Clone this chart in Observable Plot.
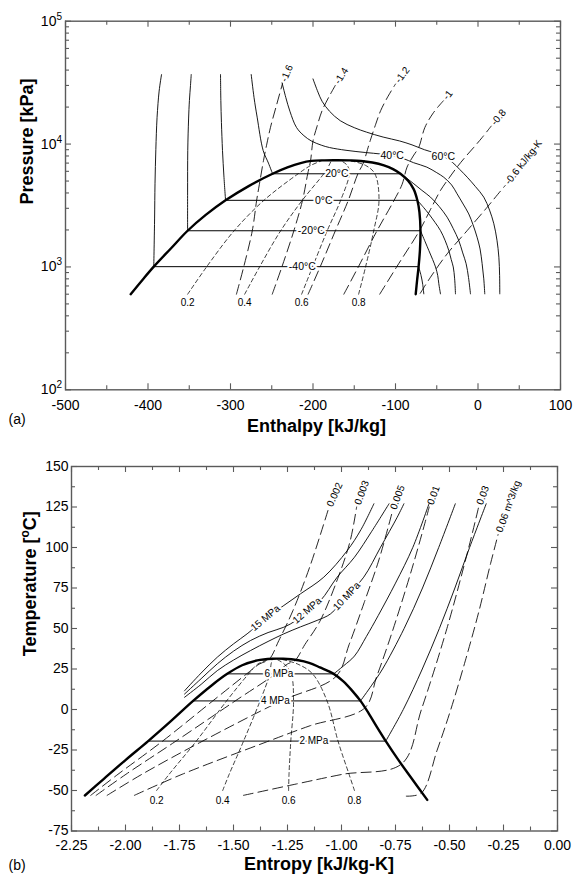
<!DOCTYPE html>
<html>
<head>
<meta charset="utf-8">
<script src="https://cdn.jsdelivr.net/npm/d3@7"></script>
<script src="https://cdn.jsdelivr.net/npm/@observablehq/plot@0.6"></script>
<style>
  body { margin: 0; background: #fff; }
  #chart { position: relative; width: 574px; height: 880px; overflow: hidden; }
  #chart svg { position: absolute; left: 0; }
</style>
</head>
<body>
<div id="chart"></div>
<script>
// ================= Panel (a): CO2 pressure–enthalpy diagram =================
// axis ticks
const hTicks = [-500, -400, -300, -200, -100, 0, 100];
const hMinorTicks = [-450, -350, -250, -150, -50, 50];
const pTicks = [100, 1000, 10000, 100000];
const pMinorTicks = [200, 300, 400, 500, 600, 700, 800, 900,
  2000, 3000, 4000, 5000, 6000, 7000, 8000, 9000,
  20000, 30000, 40000, 50000, 60000, 70000, 80000, 90000];

// saturation dome [h kJ/kg, P kPa]
const satDomePH = [[-421, 600], [-407, 780], [-393, 1005], [-372, 1420], [-352, 1970], [-330, 2650],
  [-306, 3485], [-278, 4550], [-249, 5730], [-231, 6450], [-215, 7000], [-202, 7290], [-186, 7370],
  [-170, 7380], [-155, 7360], [-142, 7290], [-128, 7080], [-114, 6700], [-103, 6250], [-94, 5730],
  [-85, 5050], [-78, 4300], [-73.5, 3485], [-71, 2800], [-69.7, 1970], [-70.3, 1400], [-72, 1005],
  [-73.8, 780], [-75.5, 600]];

// two-phase isotherms (constant pressure inside the dome)
const satTempLabels = ["-40°C", "-20°C", "0°C", "20°C"];
const satPressure = [1005, 1970, 3485, 5730];
const satLiquidH = [-393, -352, -306, -249];
const satVaporH = [-72, -69.7, -73.5, -94];
const satLabelH = [-213, -202, -187, -171];

// compressed-liquid isotherms
const isoLiqM40 = [[-393, 1005], [-392, 2500], [-391.5, 4750], [-390.5, 9000], [-389, 16500], [-386.5, 27000], [-383.6, 36800]];
const isoLiqM20 = [[-352, 1970], [-352, 4000], [-351.8, 8870], [-350.8, 16000], [-349.8, 22600], [-348.5, 30000], [-347.6, 36800]];
const isoLiq0 = [[-306, 3485], [-308, 5500], [-309.7, 8870], [-311, 15000], [-311.7, 22600], [-312.1, 36800]];
const isoLiq20 = [[-249, 5730], [-254, 7000], [-260.4, 8860], [-267.7, 16560], [-271.5, 24000], [-274.9, 36800]];
// superheated-vapour isotherms
const isoVapM40 = [[-72, 1005], [-69, 850], [-67, 720], [-65.7, 604]];
const isoVapM20 = [[-69.7, 1970], [-64, 1600], [-59.6, 1360], [-55, 1150], [-51.5, 1000], [-48.8, 850], [-47.5, 730], [-45.5, 604]];
const isoVap0 = [[-73.5, 3485], [-66, 3050], [-59.6, 2700], [-52, 2300], [-45.5, 1977], [-40, 1650], [-35.4, 1360], [-32.5, 1150], [-30, 1000], [-28.3, 800], [-27.3, 604]];
const isoVap20 = [[-94, 5730], [-86, 5250], [-77.8, 4750], [-68, 4200], [-57.6, 3700], [-47, 3100], [-37.4, 2540], [-30, 2050], [-23.3, 1640], [-18.5, 1300], [-14.4, 1063], [-11.5, 820], [-9.1, 604]];
// supercritical isotherms
const iso40 = [[-237.5, 31500], [-233, 24000], [-228, 18500], [-220, 13650], [-211, 11700], [-202, 10600], [-190, 9800],
  [-180, 9370], [-160, 8900], [-136, 8530], [-118, 8300], [-104, 8020], [-90, 7600], [-78, 7050], [-62, 6490],
  [-50, 5850], [-41.5, 5370], [-32, 4650], [-25.4, 3940], [-18, 3250], [-11.2, 2700], [-6, 2200], [-1.1, 1746],
  [2.5, 1400], [5, 1063], [7, 800], [8.2, 604]];
const iso60 = [[-200, 33900], [-194, 26500], [-189, 22300], [-180, 18500], [-167, 15500], [-150, 13600], [-135, 12500],
  [-115, 11400], [-95, 10600], [-80, 9850], [-65, 9000], [-52, 8450], [-42, 7950], [-31, 7100], [-22, 6200],
  [-13, 5370], [-3, 4500], [7, 3700], [14, 2900], [19.2, 2245], [23, 1650], [25.3, 1200], [26.2, 850], [26.4, 604]];
const superLabels = ["40°C", "60°C"];
const superLabelH = [-104, -42];
const superLabelP = [8020, 7950];

// isentropes [kJ/kg-K]
const isentropeNames = ["-1.6", "-1.4", "-1.2", "-1", "-0.8", "-0.6 kJ/kg-K"];
const isenM16 = [[-292.8, 600], [-283.9, 1005], [-273.6, 1970], [-268.3, 3485], [-265, 4700], [-260, 7345], [-256, 10000], [-251.5, 13700], [-244, 21000], [-237, 31000]];
const isenM14 = [[-249.4, 600], [-237.6, 1005], [-223.2, 1970], [-212.7, 3485], [-206.4, 5730], [-203, 7300], [-200, 10600], [-195, 14000], [-189, 18700], [-181, 24000], [-173, 30000]];
const isenM12 = [[-205.9, 600], [-191.2, 1005], [-172.9, 1970], [-157.2, 3485], [-145.6, 5730], [-139, 7000], [-134, 9000], [-130, 11000], [-124, 14500], [-118, 18700], [-109, 24500], [-100, 30800]];
const isenM10 = [[-162.6, 600], [-144.9, 1005], [-122.4, 1970], [-101.7, 3485], [-92, 4700], [-86, 6490], [-78.5, 8000], [-71.8, 9420], [-64.4, 13650], [-54, 18000], [-42, 22500]];
const isenM08 = [[-119.1, 600], [-98.4, 1005], [-71, 1970], [-58, 2900], [-45.5, 4190], [-35, 5300], [-25.4, 6490], [-15, 7900], [-5, 9420], [5, 11300], [16, 14000]];
const isenM06 = [[-70, 610], [-57.6, 824], [-37.4, 1277], [-13.1, 1977], [11.1, 3060], [24, 3900], [33, 4600]];

// vapour-quality lines
const qualityNames = ["0.2", "0.4", "0.6", "0.8"];
const q02PH = [[-351.9, 600], [-328.8, 1005], [-295.6, 1970], [-259.5, 3485], [-218, 5730], [-202.8, 6700], [-190, 7290]];
const q04PH = [[-282.8, 600], [-264.6, 1005], [-239.2, 1970], [-213, 3485], [-187, 5730], [-180.6, 6700], [-178, 7300]];
const q06PH = [[-213.8, 600], [-200.4, 1005], [-182.8, 1970], [-166.5, 3485], [-156, 5730], [-158.4, 6700], [-166, 7320]];
const q08PH = [[-144.7, 600], [-136.2, 1005], [-126.4, 1970], [-120, 3485], [-125, 5730], [-136.2, 6700], [-154, 7300]];

// ================= Panel (b): CO2 temperature–entropy diagram =================
const sTicks = [-2.25, -2.0, -1.75, -1.5, -1.25, -1.0, -0.75, -0.5, -0.25, 0];
const sMinorTicks = [-2.125, -1.875, -1.625, -1.375, -1.125, -0.875, -0.625, -0.375, -0.125];
const tTicks = [-75, -50, -25, 0, 25, 50, 75, 100, 125, 150];
const tMinorTicks = [-62.5, -37.5, -12.5, 12.5, 37.5, 62.5, 87.5, 112.5, 137.5];

// saturation dome [s kJ/kg-K, T °C]
const satDomeTS = [[-2.188, -53.1], [-2.10, -42.8], [-2.0, -31.2], [-1.895, -19.5], [-1.79, -7.2], [-1.687, 5.3],
  [-1.60, 15], [-1.529, 22], [-1.46, 27.3], [-1.39, 30.3], [-1.32, 31.3], [-1.27, 31.3], [-1.2, 30.4],
  [-1.15, 28.8], [-1.10, 26.0], [-1.036, 22], [-0.99, 17.2], [-0.95, 11.5], [-0.912, 5.3], [-0.87, -3.3],
  [-0.835, -11], [-0.795, -19.5], [-0.74, -30.5], [-0.68, -41.7], [-0.603, -55.8]];

// two-phase isobars
const satIsobarLabels = ["6 MPa", "4 MPa", "2 MPa"];
const satIsobarT = [22, 5.3, -19.5];
const satIsobarSf = [-1.529, -1.687, -1.895];
const satIsobarSg = [-1.036, -0.912, -0.795];
const satIsobarLabelS = [-1.29, -1.306, -1.128];

// single-phase isobars
const p2TS = [[-0.795, -19.5], [-0.714, 0], [-0.626, 25], [-0.547, 50], [-0.475, 75], [-0.407, 100], [-0.33, 127]];
const p4TS = [[-0.912, 5.3], [-0.86, 15], [-0.81, 25], [-0.71, 50], [-0.625, 75], [-0.55, 100], [-0.473, 127]];
const p6TS = [[-1.036, 22], [-0.99, 27], [-0.94, 33], [-0.885, 45], [-0.83, 58], [-0.75, 78], [-0.67, 100], [-0.595, 127]];
const p10TS = [[-1.727, 7.5], [-1.65, 15.5], [-1.575, 24], [-1.5, 30.5], [-1.421, 36.4], [-1.34, 42], [-1.267, 46.7],
  [-1.19, 51], [-1.113, 55], [-1.051, 59], [-0.976, 70], [-0.897, 81.7], [-0.819, 100.2], [-0.742, 118.7], [-0.711, 127]];
const p12TS = [[-1.727, 9.5], [-1.65, 19], [-1.575, 28.2], [-1.5, 36], [-1.421, 42.6], [-1.34, 47.5], [-1.267, 50.8],
  [-1.21, 55], [-1.159, 61.1], [-1.097, 67.3], [-1.02, 81.7], [-0.94, 94], [-0.86, 110], [-0.78, 127]];
const p15TS = [[-1.727, 11.5], [-1.65, 22.5], [-1.575, 32.3], [-1.5, 40.5], [-1.437, 46.7], [-1.352, 56],
  [-1.267, 64.2], [-1.19, 71.4], [-1.082, 81.7], [-0.974, 98], [-0.91, 111], [-0.85, 127]];
const superIsobarLabels = ["15 MPa", "12 MPa", "10 MPa"];
const superIsobarLabelS = [-1.352, -1.159, -0.976];
const superIsobarLabelT = [56.5, 61.1, 70];

// isochores [m^3/kg]
const isochoreNames = ["0.002", "0.003", "0.005", "0.01", "0.03", "0.06 m^3/kg"];
const v0002TS = [[-2.161, -53], [-2.035, -40], [-1.833, -20], [-1.596, 5.3], [-1.439, 22], [-1.381, 28], [-1.335, 31], [-1.29, 42.6], [-1.225, 61], [-1.147, 88], [-1.06, 124]];
const v0003TS = [[-2.136, -53], [-1.998, -40], [-1.772, -20], [-1.492, 5.3], [-1.305, 22], [-1.251, 28], [-1.215, 30.3], [-1.17, 40], [-1.1, 54.5], [-1.017, 81], [-0.96, 104], [-0.93, 125]];
const v0005TS = [[-2.085, -53], [-1.924, -40], [-1.65, -20], [-1.279, 5.3], [-1.025, 20.5], [-0.965, 40], [-0.895, 66], [-0.83, 91], [-0.785, 112], [-0.765, 122]];
const v001TS = [[-1.959, -53], [-1.738, -40], [-1.347, -20], [-1.145, -10], [-0.892, 1], [-0.838, 20], [-0.785, 40], [-0.724, 65], [-0.667, 90], [-0.614, 115], [-0.594, 125]];
const v003TS = [[-1.454, -53], [-1.21, -46], [-0.995, -40], [-0.721, -33.5], [-0.63, 0], [-0.512, 50], [-0.411, 100], [-0.365, 125]];
const v006TS = [[-0.70, -53.5], [-0.63, -51.5], [-0.557, -25], [-0.494, 0], [-0.427, 30], [-0.365, 60], [-0.31, 90], [-0.275, 108]];

// vapour-quality lines
const q02TS = [[-1.856, -50], [-1.798, -40], [-1.675, -20], [-1.532, 5.3], [-1.43, 22], [-1.388, 28], [-1.335, 31]];
const q04TS = [[-1.55, -50], [-1.52, -40], [-1.455, -20], [-1.377, 5.3], [-1.332, 22], [-1.326, 28], [-1.32, 31]];
const q06TS = [[-1.245, -50], [-1.243, -40], [-1.235, -20], [-1.222, 5.3], [-1.233, 22], [-1.264, 28], [-1.30, 31]];
const q08TS = [[-0.94, -50], [-0.965, -40], [-1.015, -20], [-1.067, 5.3], [-1.134, 22], [-1.202, 28], [-1.28, 31]];

// ---------------------------------------------------------------------------
const FONT = "'Liberation Sans', Arial, Helvetica, sans-serif";
const AXIS = "#5a5a5a";
const SVGNS = "http://www.w3.org/2000/svg";

const rows = (list) => list.flatMap(([id, pts]) => pts.map(([x, y]) => ({id, x, y})));
const last = (pts) => pts[pts.length - 1];

// inward ticks on all four sides of the frame
function frameTicks(xMajor, xMinor, yMajor, yMinor, innerW, innerH) {
  const M = 6, m = 4;
  const o = {stroke: AXIS, strokeWidth: 1.1};
  return [
    Plot.tickX(xMajor, {x: d => d, insetTop: innerH - M, ...o}),
    Plot.tickX(xMajor, {x: d => d, insetBottom: innerH - M, ...o}),
    Plot.tickX(xMinor, {x: d => d, insetTop: innerH - m, ...o}),
    Plot.tickX(xMinor, {x: d => d, insetBottom: innerH - m, ...o}),
    Plot.tickY(yMajor, {y: d => d, insetRight: innerW - M, ...o}),
    Plot.tickY(yMajor, {y: d => d, insetLeft: innerW - M, ...o}),
    Plot.tickY(yMinor, {y: d => d, insetRight: innerW - m, ...o}),
    Plot.tickY(yMinor, {y: d => d, insetLeft: innerW - m, ...o}),
    Plot.frame({stroke: AXIS, strokeWidth: 1.4})
  ];
}

const lineOpts = {x: "x", y: "y", z: "id", stroke: "#000", curve: "catmull-rom"};
const labelOpts = {fill: "#000", stroke: "#fff", strokeWidth: 4, fontFamily: FONT};

// ------------------------------ panel (a) -------------------------------
const isentropesPH = [isenM16, isenM14, isenM12, isenM10, isenM08, isenM06];
const isentropeAngles = [-67, -58, -53, -52, -50, -52];
const qualityPH = [q02PH, q04PH, q06PH, q08PH];

const plotA = Plot.plot({
  width: 574, height: 450,
  marginLeft: 65, marginRight: 14, marginTop: 20.7, marginBottom: 60.7,
  style: {fontFamily: FONT, fontSize: "14px", background: "transparent", overflow: "visible", color: "#000"},
  x: {domain: [-500, 100], ticks: hTicks, tickFormat: d => String(d), tickSize: 0, tickPadding: 10, label: null},
  y: {type: "log", domain: [100, 100000], ticks: pTicks, tickFormat: d => "10^" + Math.round(Math.log10(d)), tickSize: 0, tickPadding: 3.5, label: null},
  marks: [
    Plot.line(rows(qualityPH.map((c, i) => [qualityNames[i], c])), {...lineOpts, strokeWidth: 0.75, strokeDasharray: "4,3"}),
    Plot.line(rows(isentropesPH.map((c, i) => [isentropeNames[i], c])), {...lineOpts, strokeWidth: 0.85, strokeDasharray: "10,5"}),
    Plot.line(rows([["l-40", isoLiqM40], ["l-20", isoLiqM20], ["l0", isoLiq0], ["l20", isoLiq20],
      ["v-40", isoVapM40], ["v-20", isoVapM20], ["v0", isoVap0], ["v20", isoVap20], ["c40", iso40], ["c60", iso60]]),
      {...lineOpts, strokeWidth: 0.9}),
    Plot.ruleY(satPressure.map((_, i) => i), {y: i => satPressure[i], x1: i => satLiquidH[i], x2: i => satVaporH[i], stroke: "#000", strokeWidth: 1}),
    Plot.line(satDomePH, {x: d => d[0], y: d => d[1], stroke: "#000", strokeWidth: 2.4, curve: "catmull-rom"}),
    // isotherm labels
    Plot.text(satTempLabels.map((_, i) => i), {x: i => satLabelH[i], y: i => satPressure[i], text: i => satTempLabels[i], fontSize: 10.5, ...labelOpts}),
    Plot.text(superLabels.map((_, i) => i), {x: i => superLabelH[i], y: i => superLabelP[i], text: i => superLabels[i], fontSize: 10.5, ...labelOpts}),
    // isentrope labels at the upper end of each line
    Plot.text(isentropesPH.map((_, i) => i), {x: i => last(isentropesPH[i])[0], y: i => last(isentropesPH[i])[1],
      text: i => "\u00a0" + isentropeNames[i], rotate: i => isentropeAngles[i], textAnchor: "start", fontSize: 10, fill: "#000", fontFamily: FONT}),
    // quality labels under the lower end
    Plot.text(qualityPH.map((_, i) => i), {x: i => qualityPH[i][0][0], y: i => qualityPH[i][0][1], text: i => qualityNames[i],
      dy: 9, fontSize: 10, fill: "#000", fontFamily: FONT}),
    ...frameTicks(hTicks, hMinorTicks, pTicks, pMinorTicks, 495, 368.6),
    // axis titles and panel tag
    Plot.text(["Enthalpy [kJ/kg]"], {frameAnchor: "bottom", dx: 3.5, dy: 42, fontSize: 18, fontWeight: "bold", fontFamily: FONT, fill: "#000"}),
    Plot.text(["Pressure [kPa]"], {frameAnchor: "left", dx: -38.5, dy: -1, rotate: -90, fontSize: 18, fontWeight: "bold", fontFamily: FONT, fill: "#000"}),
    Plot.text(["(a)"], {frameAnchor: "bottom-left", dx: -57, dy: 34, textAnchor: "start", fontSize: 14, fontFamily: FONT, fill: "#000"})
  ]
});

// ------------------------------ panel (b) -------------------------------
const isochoresTS = [v0002TS, v0003TS, v0005TS, v001TS, v003TS, v006TS];
const isochoreAngles = [-66, -70, -70, -70, -70, -70];
const qualityTS = [q02TS, q04TS, q06TS, q08TS];
const superIsobarsTS = [p15TS, p12TS, p10TS];
const superIsobarAngles = [-40, -41, -47];

const plotB = Plot.plot({
  width: 574, height: 430,
  marginLeft: 71, marginRight: 17, marginTop: 16, marginBottom: 49.5,
  style: {fontFamily: FONT, fontSize: "14px", background: "transparent", overflow: "visible", color: "#000"},
  x: {domain: [-2.25, 0], ticks: sTicks, tickFormat: d => d.toFixed(2), tickSize: 0, tickPadding: 9.5, label: null},
  y: {domain: [-75, 150], ticks: tTicks, tickFormat: d => String(d), tickSize: 0, tickPadding: 3, label: null},
  marks: [
    Plot.line(rows(qualityTS.map((c, i) => [qualityNames[i], c])), {...lineOpts, strokeWidth: 0.75, strokeDasharray: "4,3"}),
    Plot.line(rows(isochoresTS.map((c, i) => [isochoreNames[i], c])), {...lineOpts, strokeWidth: 0.85, strokeDasharray: "10,5"}),
    Plot.line(rows([["2", p2TS], ["4", p4TS], ["6", p6TS], ["10", p10TS], ["12", p12TS], ["15", p15TS]]), {...lineOpts, strokeWidth: 0.9}),
    Plot.ruleY(satIsobarT.map((_, i) => i), {y: i => satIsobarT[i], x1: i => satIsobarSf[i], x2: i => satIsobarSg[i], stroke: "#000", strokeWidth: 1}),
    Plot.line(satDomeTS, {x: d => d[0], y: d => d[1], stroke: "#000", strokeWidth: 2.4, curve: "catmull-rom"}),
    Plot.text(satIsobarLabels.map((_, i) => i), {x: i => satIsobarLabelS[i], y: i => satIsobarT[i], text: i => satIsobarLabels[i], fontSize: 10, ...labelOpts}),
    Plot.text(superIsobarsTS.map((_, i) => i), {x: i => superIsobarLabelS[i], y: i => superIsobarLabelT[i], text: i => superIsobarLabels[i],
      rotate: i => superIsobarAngles[i], fontSize: 10, ...labelOpts}),
    Plot.text(isochoresTS.map((_, i) => i), {x: i => last(isochoresTS[i])[0], y: i => last(isochoresTS[i])[1],
      text: i => "\u00a0" + isochoreNames[i], rotate: i => isochoreAngles[i], textAnchor: "start", fontSize: 10, fill: "#000", fontFamily: FONT}),
    Plot.text(qualityTS.map((_, i) => i), {x: i => qualityTS[i][0][0], y: i => qualityTS[i][0][1], text: i => qualityNames[i],
      dy: 10, fontSize: 10, fill: "#000", fontFamily: FONT}),
    ...frameTicks(sTicks, sMinorTicks, tTicks, tMinorTicks, 486, 364.5),
    Plot.text(["Entropy [kJ/kg-K]"], {frameAnchor: "bottom", dx: 4.5, dy: 38.5, fontSize: 18, fontWeight: "bold", fontFamily: FONT, fill: "#000"}),
    Plot.text(["Temperature [oC]"], {frameAnchor: "left", dx: -41, dy: 7.5, rotate: -90, fontSize: 18, fontWeight: "bold", fontFamily: FONT, fill: "#000"}),
    Plot.text(["(b)"], {frameAnchor: "bottom-left", dx: -63, dy: 38.5, textAnchor: "start", fontSize: 14, fontFamily: FONT, fill: "#000"})
  ]
});

// raised exponents on the logarithmic axis and in the temperature unit
function sup(text, dy, size) {
  const t = document.createElementNS(SVGNS, "tspan");
  t.setAttribute("dy", dy);
  if (size) t.setAttribute("font-size", size);
  t.textContent = text;
  return t;
}
function raiseExponents(svg) {
  svg.querySelectorAll("text").forEach(el => {
    const m = /^10\^(\d)$/.exec(el.textContent);
    if (m) {
      el.textContent = "10";
      el.appendChild(sup(m[1], "-6", "10px"));
    } else if (el.textContent === "Temperature [oC]") {
      el.textContent = "Temperature [";
      el.appendChild(sup("o", "-7", "12px"));
      el.appendChild(sup("C]", "7"));
    }
  });
}

const chart = document.getElementById("chart");
plotA.style.top = "0px";
plotB.style.top = "450px";
chart.appendChild(plotA);
chart.appendChild(plotB);
raiseExponents(plotA);
raiseExponents(plotB);
</script>
</body>
</html>
